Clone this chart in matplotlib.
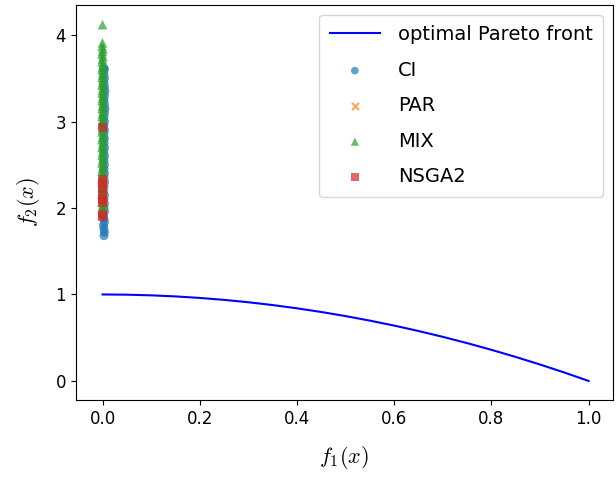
import matplotlib
matplotlib.use("Agg")
import matplotlib.pyplot as plt

plt.rcParams['mathtext.fontset'] = 'cm'
plt.rcParams['font.family'] = ['DejaVu Sans']
plt.rcParams['font.size'] = 12

# optimal Pareto front samples
front_f1 = [0.00, 0.05, 0.10, 0.15, 0.20, 0.25, 0.30, 0.35, 0.40, 0.45, 0.50,
            0.55, 0.60, 0.65, 0.70, 0.75, 0.80, 0.85, 0.90, 0.95, 1.00]
front_f2 = [1.0000, 0.9975, 0.9900, 0.9775, 0.9600, 0.9375, 0.9100, 0.8775,
            0.8400, 0.7975, 0.7500, 0.6975, 0.6400, 0.5775, 0.5100, 0.4375,
            0.3600, 0.2775, 0.1900, 0.0975, 0.0000]

ci_f2 = [1.68, 1.72, 1.76, 1.80, 1.84, 1.88, 1.92, 1.96, 2.00, 2.05,
         2.10, 2.15, 2.20, 2.25, 2.30, 2.35, 2.40, 2.45, 2.50, 2.55,
         2.60, 2.65, 2.70, 2.75, 2.80, 2.85, 2.90, 2.95, 3.00, 3.05,
         3.10, 3.15, 3.20, 3.25, 3.30, 3.35, 3.40, 3.45, 3.50, 3.55,
         3.60, 3.62]
ci_f1 = [0.003, 0.004, 0.003, 0.002, 0.004, 0.003, 0.002, 0.004, 0.003, 0.004,
         0.003, 0.004, 0.002, 0.003, 0.004, 0.003, 0.004, 0.003, 0.004, 0.003,
         0.004, 0.003, 0.004, 0.003, 0.004, 0.003, 0.004, 0.003, 0.004, 0.003,
         0.004, 0.005, 0.004, 0.003, 0.004, 0.005, 0.004, 0.003, 0.004, 0.003,
         0.004, 0.003]

par_f2 = [2.02, 2.10, 2.18, 2.26, 2.32]
par_f1 = [0.000, 0.001, 0.000, 0.001, 0.000]

mix_f2 = [4.12, 3.91, 3.87, 3.84, 3.81, 3.78, 3.75, 3.72, 3.69, 3.66,
          3.63, 3.60, 3.57, 3.54, 3.51, 3.48, 3.45, 3.42, 3.39, 3.36,
          3.33, 3.30, 3.27, 3.24, 3.21, 3.18, 3.15, 3.12, 3.09, 3.06,
          3.03, 3.00, 2.97, 2.94, 2.91, 2.88, 2.85, 2.82, 2.79, 2.76,
          2.73, 2.70, 2.67, 2.64, 2.61, 2.58, 2.55, 2.52, 2.49, 2.46,
          2.43, 2.40, 2.37, 2.34, 2.31, 2.28, 2.25, 2.22, 2.19, 2.16,
          2.13, 2.10, 2.07, 2.04, 2.01, 1.98, 1.95]
mix_f1 = [0.000, 0.000, -0.001, 0.001, 0.000, -0.001, 0.001, 0.000, -0.001, 0.001,
          0.000, -0.001, 0.001, 0.000, -0.001, 0.001, 0.000, -0.001, 0.001, 0.000,
          -0.001, 0.001, 0.000, -0.001, 0.001, 0.000, -0.001, 0.001, 0.000, -0.001,
          0.001, 0.000, -0.001, 0.001, 0.000, -0.001, 0.001, 0.000, -0.001, 0.001,
          0.000, -0.001, 0.001, 0.000, -0.001, 0.001, 0.000, -0.001, 0.001, 0.000,
          -0.001, 0.001, 0.000, -0.001, 0.001, 0.000, -0.001, 0.001, 0.000, -0.001,
          0.001, 0.000, -0.001, 0.001, 0.000, -0.001, 0.000]

nsga_f2 = [2.93, 2.33, 2.28, 2.22, 2.15, 2.10, 2.06, 1.92, 1.90]
nsga_f1 = [0.000, 0.000, 0.000, 0.000, 0.000, 0.000, 0.000, 0.000, 0.000]

fig = plt.figure(figsize=(6.16, 4.79), dpi=100)
ax = fig.add_axes([0.123, 0.165, 0.872, 0.825])

ax.plot(front_f1, front_f2, color='blue', lw=1.5, label='optimal Pareto front')
ax.scatter(ci_f1, ci_f2, marker='o', s=42, color='#1f77b4', alpha=0.7,
           label='CI', edgecolors='none')
ax.scatter(par_f1, par_f2, marker='x', s=36, color='#ff7f0e', alpha=0.7, label='PAR')
ax.scatter(mix_f1, mix_f2, marker='^', s=48, color='#2ca02c', alpha=0.7,
           label='MIX', edgecolors='none')
ax.scatter(nsga_f1, nsga_f2, marker='s', s=42, color='#d62728', alpha=0.7,
           label='NSGA2', edgecolors='none')

ax.set_xlim(-0.055, 1.05)
ax.set_ylim(-0.22, 4.35)
ax.set_xlabel(r'$f_1(x)$', fontsize=16, labelpad=12)
ax.set_ylabel(r'$f_2(x)$', fontsize=16, labelpad=10)
ax.legend(loc='upper right', fontsize=14, labelspacing=0.85, handlelength=2.6,
          handletextpad=0.9, markerscale=0.85, borderpad=0.55)

fig.savefig('out.png', dpi=100)
